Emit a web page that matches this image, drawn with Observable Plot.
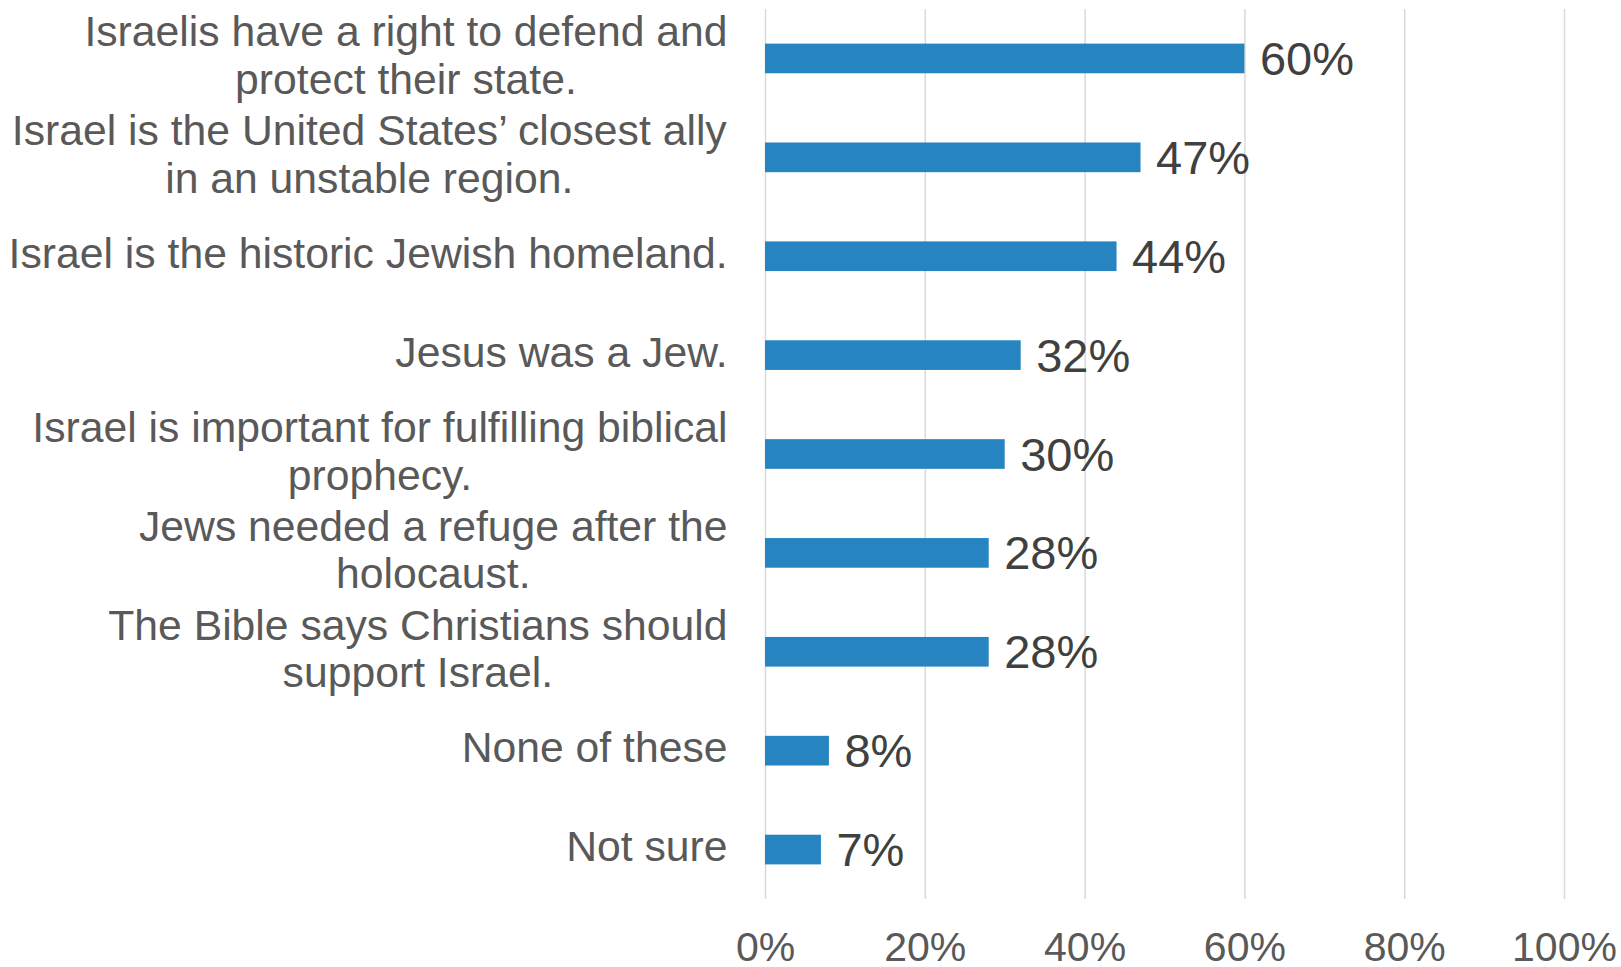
<!DOCTYPE html>
<html>
<head>
<meta charset="utf-8">
<script src="https://cdn.jsdelivr.net/npm/d3@7"></script>
<script src="https://cdn.jsdelivr.net/npm/@observablehq/plot@0.6"></script>
<style>
  html, body { margin: 0; padding: 0; background: #ffffff; }
  #chart svg { display: block; }
</style>
</head>
<body>
<div id="chart"></div>
<script>
const categories = [
  "Israelis have a right to defend and\nprotect their state.",
  "Israel is the United States’ closest ally\nin an unstable region.",
  "Israel is the historic Jewish homeland.",
  "Jesus was a Jew.",
  "Israel is important for fulfilling biblical\nprophecy.",
  "Jews needed a refuge after the\nholocaust.",
  "The Bible says Christians should\nsupport Israel.",
  "None of these",
  "Not sure"
];
const values = [60, 47, 44, 32, 30, 28, 28, 8, 7];
const xTicks = [0, 20, 40, 60, 80, 100];

const data = categories.map((c, i) => ({category: c, value: values[i]}));

const FONT = "'Liberation Sans', Arial, Helvetica, sans-serif";
const catSize = 42.7;
const canvas = document.createElement("canvas");
const ctx = canvas.getContext("2d");
ctx.font = `${catSize}px ${FONT}`;
function blockWidth(s) {
  return Math.max(...s.split("\n").map(l => ctx.measureText(l).width));
}
const labelGap = 38;

const labelMarks = categories.map(c => Plot.text([c], {
  y: d => d,
  text: d => d,
  frameAnchor: "left",
  textAnchor: "middle",
  dx: -labelGap - blockWidth(c) / 2,
  dy: -4,
  lineHeight: 1.115,
  fontSize: catSize,
  fill: "#595959"
}));

const chart = Plot.plot({
  width: 1621,
  height: 967,
  marginLeft: 765,
  marginRight: 57,
  marginTop: 9,
  marginBottom: 68,
  style: {fontFamily: FONT, background: "#ffffff", overflow: "visible"},
  x: {domain: [0, 100], ticks: xTicks, tickFormat: d => d + "%", label: null},
  y: {domain: categories, paddingInner: 0.7, paddingOuter: 0.35, round: false, axis: null, label: null},
  marks: [
    Plot.gridX(xTicks, {stroke: "#d9d9d9", strokeOpacity: 1, strokeWidth: 1.5}),
    Plot.barX(data, {x: "value", y: "category", fill: "#2684c0"}),
    Plot.text(data, {
      x: "value", y: "category", text: d => d.value + "%",
      textAnchor: "start", dx: 15, dy: 1, fontSize: 47, fill: "#404040"
    }),
    Plot.axisX(xTicks, {
      tickSize: 0, tickPadding: 32, fontSize: 41, fill: "#595959",
      tickFormat: d => d + "%", label: null
    }),
    ...labelMarks
  ]
});
document.getElementById("chart").appendChild(chart);
</script>
</body>
</html>
